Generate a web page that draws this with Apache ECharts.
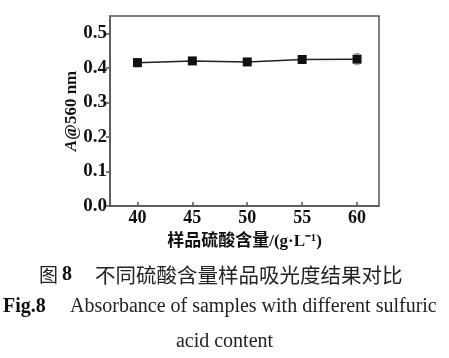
<!DOCTYPE html>
<html>
<head>
<meta charset="utf-8">
<script src="https://cdn.jsdelivr.net/npm/echarts@6/dist/echarts.min.js"></script>
<style>html,body{margin:0;padding:0;background:#fff;}#c{width:449px;height:358px;}</style>
</head>
<body>
<div id="c"></div>
<script>
var sulfuric = [40, 45, 50, 55, 60];
var absorbance = [0.415, 0.420, 0.417, 0.424, 0.425];
var errorVals = [0.012, 0.004, 0.004, 0.004, 0.016];
var yTicks = [0, 0.1, 0.2, 0.3, 0.4, 0.5];
var captionCn = '不同硫酸含量样品吸光度结果对比';
var captionEn1 = 'Absorbance of samples with different sulfuric';
var captionEn2 = 'acid content';

var chart = echarts.init(document.getElementById('c'));
var serif = "'Liberation Serif', 'Noto Sans CJK SC', serif";
var axisColor = '#555';
var lineData = sulfuric.map(function (x, i) { return [x, absorbance[i]]; });
var errData = sulfuric.map(function (x, i) { return [x, absorbance[i] - errorVals[i], absorbance[i] + errorVals[i]]; });

chart.setOption({
  animation: false,
  backgroundColor: '#fff',
  grid: { left: 110, top: 16, right: 70, bottom: 152, show: true, borderColor: axisColor, borderWidth: 1.5, backgroundColor: 'transparent' },
  xAxis: {
    type: 'value', min: 37.5, max: 62,
    name: '样品硫酸含量/(g·L⁻¹)', nameLocation: 'middle', nameGap: 27, nameMoveOverlap: false,
    nameTextStyle: { fontFamily: serif, fontWeight: 'bold', fontSize: 17, color: '#111' },
    axisLine: { lineStyle: { color: axisColor, width: 1.5 } },
    axisTick: { inside: true, length: 4, customValues: sulfuric, lineStyle: { color: axisColor, width: 1.5 } },
    axisLabel: { customValues: sulfuric, fontFamily: serif, fontWeight: 'bold', fontSize: 18, color: '#111', margin: 3 },
    splitLine: { show: false }
  },
  yAxis: {
    type: 'value', min: 0, max: 0.55,
    name: '{i|A}@560 nm', nameLocation: 'middle', nameGap: 30, nameRotate: 90, nameMoveOverlap: false,
    nameTextStyle: { fontFamily: serif, fontWeight: 'bold', fontSize: 17, color: '#111',
      rich: { i: { fontFamily: serif, fontWeight: 'bold', fontStyle: 'italic', fontSize: 17, color: '#111' } } },
    axisLine: { show: true, lineStyle: { color: axisColor, width: 1.5 } },
    axisTick: { show: true, inside: false, length: 4, customValues: yTicks, lineStyle: { color: axisColor, width: 1.5 } },
    axisLabel: { customValues: yTicks, fontFamily: serif, fontWeight: 'bold', fontSize: 19, color: '#111', margin: 3,
      formatter: function (v) { return v.toFixed(1); } },
    splitLine: { show: false }
  },
  series: [
    {
      type: 'custom',
      data: errData,
      z: 1,
      renderItem: function (params, api) {
        var x = api.value(0);
        var lo = api.coord([x, api.value(1)]);
        var hi = api.coord([x, api.value(2)]);
        var w = 2.5;
        var st = { stroke: '#999', lineWidth: 1 };
        return { type: 'group', children: [
          { type: 'line', shape: { x1: lo[0], y1: lo[1], x2: hi[0], y2: hi[1] }, style: st },
          { type: 'line', shape: { x1: lo[0] - w, y1: lo[1], x2: lo[0] + w, y2: lo[1] }, style: st },
          { type: 'line', shape: { x1: hi[0] - w, y1: hi[1], x2: hi[0] + w, y2: hi[1] }, style: st }
        ] };
      }
    },
    {
      type: 'line',
      data: lineData,
      z: 3,
      symbol: 'rect', symbolSize: 9,
      itemStyle: { color: '#111' },
      lineStyle: { color: '#222', width: 1.5 }
    }
  ],
  graphic: [
    { type: 'text', left: 39, top: 265, style: { text: '图', font: "19px 'Noto Sans CJK SC'", fill: '#222' } },
    { type: 'text', left: 62, top: 265, style: { text: '8', font: "bold 20px 'Liberation Serif'", fill: '#111' } },
    { type: 'text', left: 95, top: 265, style: { text: captionCn, font: "20.5px 'Noto Sans CJK SC'", fill: '#222' } },
    { type: 'text', left: 3, top: 297, style: { text: 'Fig.8', font: "bold 20px 'Liberation Serif'", fill: '#111' } },
    { type: 'text', left: 70, top: 297, style: { text: captionEn1, font: "20px 'Liberation Serif'", fill: '#222' } },
    { type: 'text', left: 'center', top: 332, style: { text: captionEn2, font: "20px 'Liberation Serif'", fill: '#222' } }
  ]
});
</script>
</body>
</html>
